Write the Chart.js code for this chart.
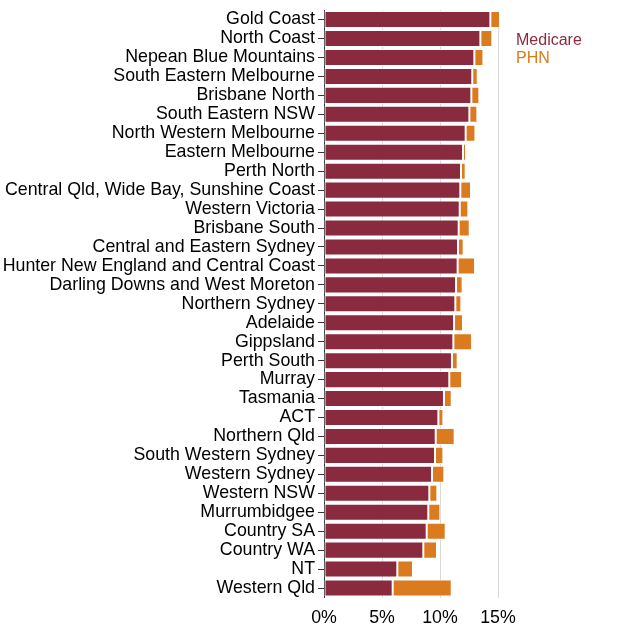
<!DOCTYPE html>
<html>
<head>
<meta charset="utf-8">
<script src="https://cdn.jsdelivr.net/npm/chart.js@4/dist/chart.umd.min.js"></script>
<style>
  body { margin: 0; background: #fff; }
  #wrap { width: 628px; height: 628px; }
</style>
</head>
<body>
<div id="wrap"><canvas id="chart"></canvas></div>
<script>
const categories = [
  'Gold Coast', 'North Coast', 'Nepean Blue Mountains', 'South Eastern Melbourne',
  'Brisbane North', 'South Eastern NSW', 'North Western Melbourne', 'Eastern Melbourne',
  'Perth North', 'Central Qld, Wide Bay, Sunshine Coast', 'Western Victoria', 'Brisbane South',
  'Central and Eastern Sydney', 'Hunter New England and Central Coast', 'Darling Downs and West Moreton',
  'Northern Sydney', 'Adelaide', 'Gippsland', 'Perth South', 'Murray', 'Tasmania', 'ACT',
  'Northern Qld', 'South Western Sydney', 'Western Sydney', 'Western NSW', 'Murrumbidgee',
  'Country SA', 'Country WA', 'NT', 'Western Qld'
];
const medicare = [14.34, 13.48, 12.96, 12.78, 12.70, 12.53, 12.21, 11.98, 11.81, 11.75, 11.70,
  11.61, 11.55, 11.52, 11.38, 11.32, 11.21, 11.15, 11.03, 10.80, 10.34, 9.86, 9.63, 9.57,
  9.31, 9.08, 8.99, 8.85, 8.56, 6.32, 5.92];
const phn = [0.83, 1.03, 0.78, 0.47, 0.69, 0.69, 0.84, 0.26, 0.40, 0.92, 0.74, 0.95, 0.49,
  1.50, 0.57, 0.52, 0.77, 1.61, 0.49, 1.10, 0.67, 0.43, 1.63, 0.72, 1.06, 0.69, 1.04, 1.64,
  1.18, 1.35, 5.09];
const xTicks = [0, 5, 10, 15];

const maroon = '#8a2a3f';
const orange = '#d97b1e';
const font = 'Liberation Sans, Arial, Helvetica, sans-serif';

const xMax = Math.max(...medicare.map((m, i) => m + phn[i]));

// legend drawn as coloured text to the right of the plot
const textLegend = {
  id: 'textLegend',
  afterDraw(chart) {
    const c = chart.ctx;
    const area = chart.chartArea;
    c.save();
    c.font = '16px ' + font;
    c.textBaseline = 'middle';
    chart.data.datasets.forEach((ds, i) => {
      c.fillStyle = ds.backgroundColor;
      c.fillText(ds.label, area.right + 16, area.top + 30.5 + i * 18);
    });
    c.restore();
  }
};

new Chart(document.getElementById('chart'), {
  type: 'bar',
  data: {
    labels: categories,
    datasets: [
      { label: 'Medicare', data: medicare, backgroundColor: maroon },
      { label: 'PHN', data: phn, backgroundColor: orange }
    ]
  },
  options: {
    indexAxis: 'y',
    responsive: true,
    maintainAspectRatio: false,
    animation: false,
    layout: { padding: { top: 8, right: 128, left: 0, bottom: 0 } },
    datasets: {
      bar: {
        barPercentage: 0.9,
        categoryPercentage: 1.0,
        borderWidth: 1,
        borderColor: 'rgba(255,255,255,0.85)',
        borderSkipped: false
      }
    },
    plugins: {
      legend: { display: false },
      tooltip: { enabled: false }
    },
    scales: {
      x: {
        stacked: true,
        min: 0,
        max: xMax,
        afterBuildTicks(scale) {
          scale.ticks = xTicks.map(v => ({ value: v }));
        },
        afterFit(scale) { scale.height = 30.5; },
        grid: {
          color: ctx => ctx.tick && ctx.tick.value === 0 ? 'rgba(0,0,0,0)' : '#d9d9d9',
          drawTicks: false
        },
        border: { display: false },
        ticks: {
          color: '#000',
          font: { family: font, size: 17.8, lineHeight: 1 },
          padding: 12,
          callback: v => v + '%'
        }
      },
      y: {
        stacked: true,
        afterFit(scale) { scale.width = 324; },
        grid: {
          offset: false,
          drawOnChartArea: false,
          drawTicks: true,
          tickLength: 6,
          color: '#333'
        },
        border: { display: true, color: '#333', width: 1 },
        ticks: {
          color: '#000',
          font: { family: font, size: 17.8, lineHeight: 0.8 },
          padding: 3,
          autoSkip: false
        }
      }
    }
  },
  plugins: [textLegend]
});
</script>
</body>
</html>
